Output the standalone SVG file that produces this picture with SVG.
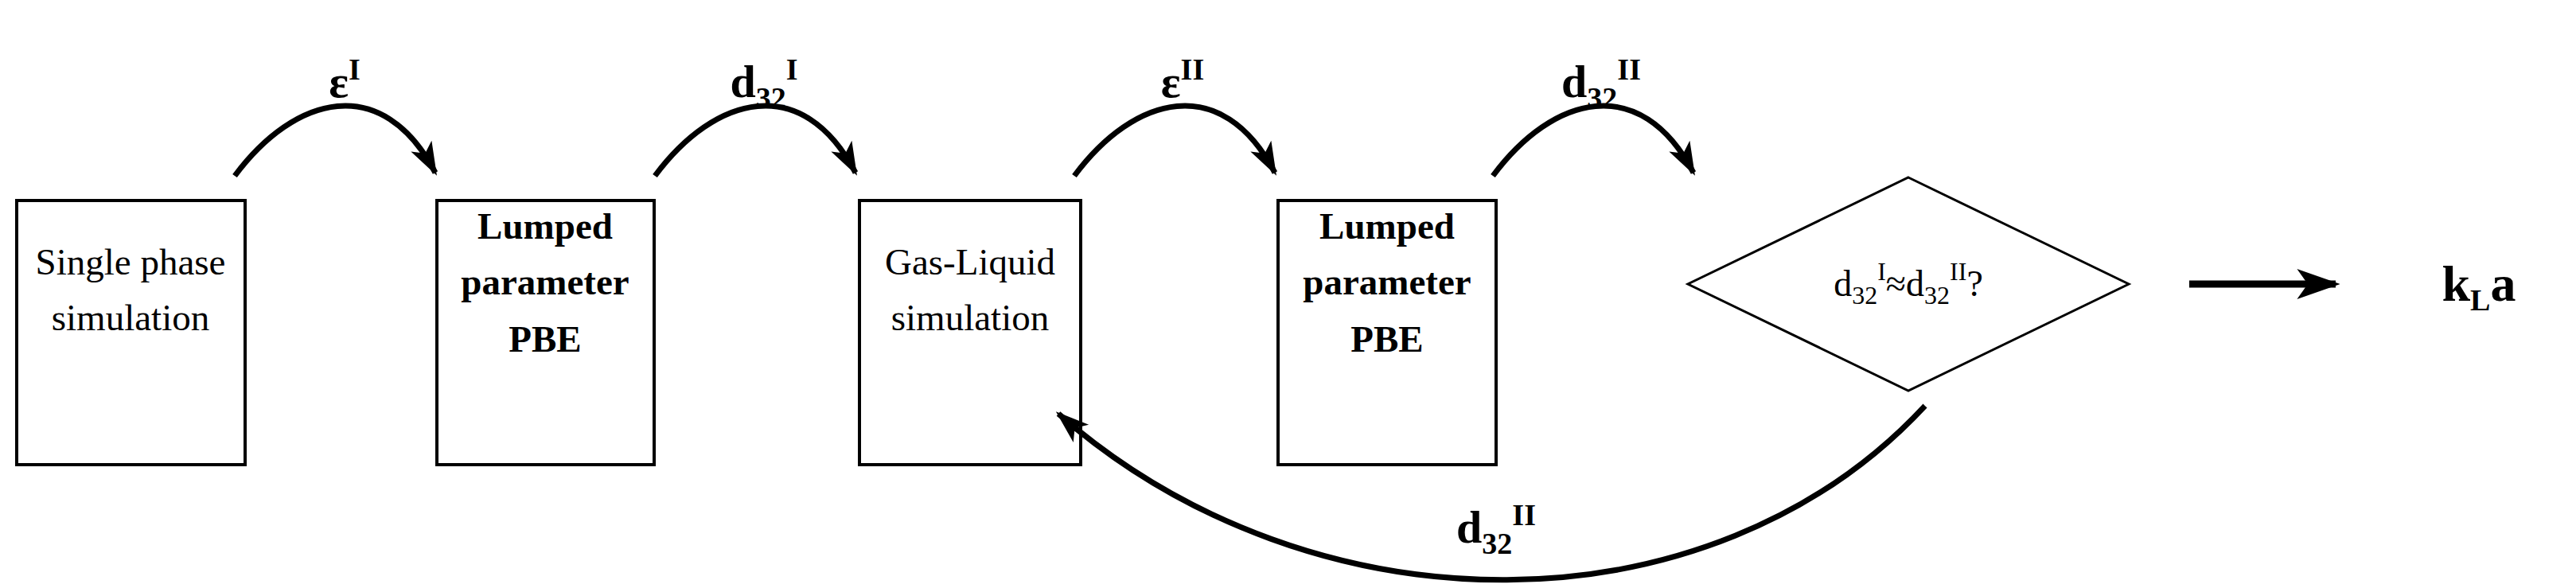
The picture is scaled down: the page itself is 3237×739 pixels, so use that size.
<svg xmlns="http://www.w3.org/2000/svg" width="3237" height="739" viewBox="0 0 3237 739">
<style>
.box{fill:#fff;stroke:#000;stroke-width:4}
.t{font-family:"Liberation Serif","DejaVu Serif",serif;font-size:47px;text-anchor:middle;fill:#000}
.b{font-weight:bold}
.lbl{font-family:"Liberation Serif","DejaVu Serif",serif;font-size:58px;font-weight:bold;text-anchor:middle;fill:#000}
.sub{font-size:38px}
.arc{fill:none;stroke:#000;stroke-width:7}
</style>
<defs>
<marker id="ah" viewBox="0 0 20 14" refX="18" refY="7" markerWidth="6" markerHeight="5" orient="auto" markerUnits="strokeWidth">
<path d="M0,0 L20,7 L0,14 L5,7 Z" fill="#000"/>
</marker>
</defs>
<rect width="3237" height="739" fill="#fff"/>
<g id="n1"><rect class="box" x="21" y="252" width="287" height="332"/>
<text class="t" x="164" y="345">Single phase</text><text class="t" x="164" y="415">simulation</text></g>
<g id="n2"><rect class="box" x="549" y="252" width="273" height="332"/>
<text class="t b" x="685" y="300">Lumped</text><text class="t b" x="685" y="370">parameter</text><text class="t b" x="685" y="442">PBE</text></g>
<g id="n3"><rect class="box" x="1080" y="252" width="278" height="332"/>
<text class="t" x="1219" y="345">Gas-Liquid</text><text class="t" x="1219" y="415">simulation</text></g>
<g id="n4"><rect class="box" x="1606" y="252" width="274" height="332"/>
<text class="t b" x="1743" y="300">Lumped</text><text class="t b" x="1743" y="370">parameter</text><text class="t b" x="1743" y="442">PBE</text></g>
<g id="n5"><polygon points="2398,223 2675,357 2398,491 2121,357" fill="#fff" stroke="#000" stroke-width="3"/>
<text class="t" x="2398" y="372" style="font-size:46px">d<tspan style="font-size:32px" dy="10">32</tspan><tspan style="font-size:32px" dy="-30">I</tspan><tspan dy="20">≈d</tspan><tspan style="font-size:32px" dy="10">32</tspan><tspan style="font-size:32px" dy="-30">II</tspan><tspan dy="20">?</tspan></text></g>
<g id="n6"><text class="lbl" x="3115" y="378" style="font-size:64px">k<tspan class="sub" dy="12">L</tspan><tspan dy="-12">a</tspan></text></g>
<g id="connectors">
<path class="arc" d="M295,221 C370,120 480,90 547,217" marker-end="url(#ah)"/>
<path class="arc" d="M823,221 C898,120 1008,90 1075,217" marker-end="url(#ah)"/>
<path class="arc" d="M1350,221 C1425,120 1535,90 1602,217" marker-end="url(#ah)"/>
<path class="arc" d="M1876,221 C1951,120 2061,90 2128,217" marker-end="url(#ah)"/>
<path class="arc" d="M2419,510 C2150,800 1650,800 1330,520" marker-end="url(#ah)"/>
<path class="arc" d="M2751,357 L2935,357" style="stroke-width:9" marker-end="url(#ah)"/>
<text class="lbl" x="433" y="122">ε<tspan class="sub" dy="-22">I</tspan></text>
<text class="lbl" x="960" y="122">d<tspan class="sub" dy="14">32</tspan><tspan class="sub" dy="-36">I</tspan></text>
<text class="lbl" x="1486" y="122">ε<tspan class="sub" dy="-22">II</tspan></text>
<text class="lbl" x="2012" y="122">d<tspan class="sub" dy="14">32</tspan><tspan class="sub" dy="-36">II</tspan></text>
<text class="lbl" x="1880" y="682">d<tspan class="sub" dy="14">32</tspan><tspan class="sub" dy="-36">II</tspan></text>
</g>
</svg>
